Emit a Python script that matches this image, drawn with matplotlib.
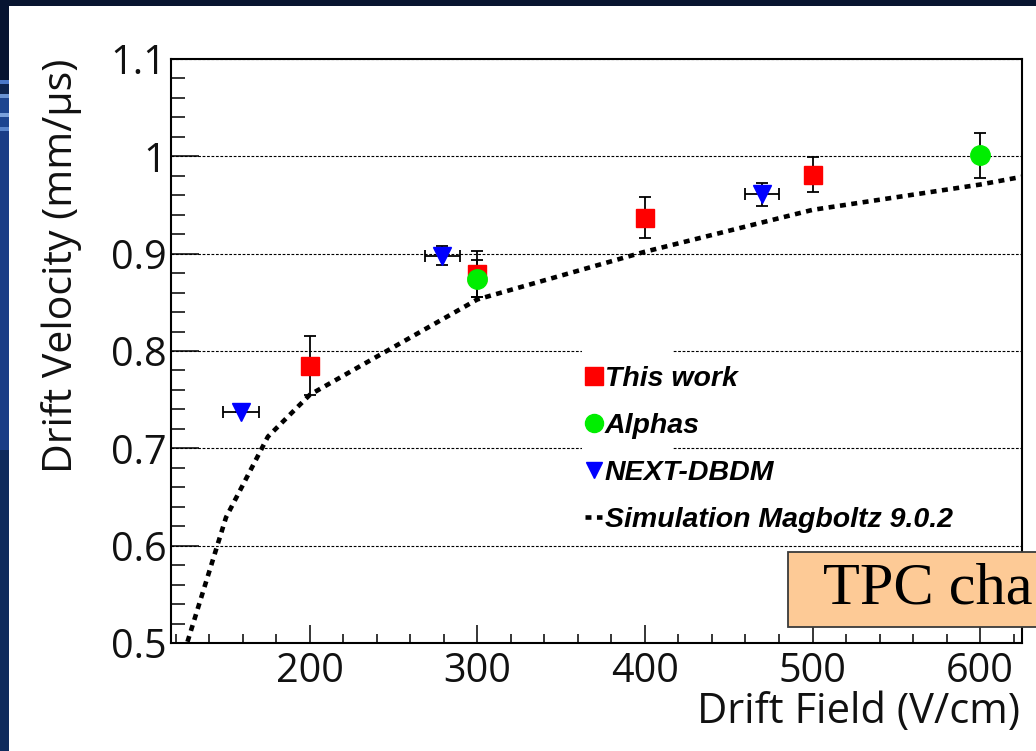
import matplotlib
matplotlib.use('Agg')
import matplotlib.pyplot as plt
from matplotlib.lines import Line2D
from matplotlib.patches import Rectangle
from matplotlib.ticker import MultipleLocator, FixedLocator, FixedFormatter

# data
this_x = [200, 300, 400, 500]
this_y = [0.785, 0.879, 0.937, 0.981]
this_err = [0.030, 0.024, 0.021, 0.018]

alpha_x = [300, 600]
alpha_y = [0.874, 1.001]
alpha_err = [0.019, 0.023]

next_x = [159, 279, 470]
next_y = [0.737, 0.898, 0.961]
next_xerr = [10.5, 10.5, 10.0]
next_yerr = [0.0, 0.010, 0.012]

sim_x = [125, 150, 175, 200, 300, 400, 500, 600, 625]
sim_y = [0.490, 0.629, 0.712, 0.755, 0.853, 0.902, 0.945, 0.971, 0.979]

y_ticks = [0.5, 0.6, 0.7, 0.8, 0.9, 1.0, 1.1]
y_tick_labels = ['0.5', '0.6', '0.7', '0.8', '0.9', '1', '1.1']
x_ticks = [200, 300, 400, 500, 600]

W, H = 1036, 751
def fx(px):
    return px / W
def fy(py):
    return 1 - py / H

fig = plt.figure(figsize=(W / 100, H / 100), dpi=100)
fig.patch.set_facecolor('white')

# slide background bits (dark band on top, blue strip on the left)
fig.add_artist(Rectangle((0, fy(6)), 1, 6 / H, transform=fig.transFigure,
                         fc='#081530', ec='none', zorder=0))
strips = [(0, 80, '#071431'), (80, 84, '#4a78c8'), (84, 94, '#0c2450'),
          (94, 98, '#6a94d4'), (98, 113, '#1c4590'), (113, 117, '#7aa2dc'),
          (117, 127, '#1c4590'), (127, 131, '#5a86cc'), (131, 450, '#1a3d86'),
          (450, 751, '#0f2b5c')]
for y0, y1, c in strips:
    fig.add_artist(Rectangle((0, fy(y1)), fx(9), (y1 - y0) / H,
                             transform=fig.transFigure, fc=c, ec='none', zorder=0))

ax = fig.add_axes([fx(170.7), fy(643), fx(1022) - fx(170.7), fy(59) - fy(643)])
ax.set_xlim(117, 625)
ax.set_ylim(0.5, 1.1)

for s in ax.spines.values():
    s.set_linewidth(1.5)
    s.set_color('black')

ax.yaxis.set_major_locator(FixedLocator(y_ticks))
ax.yaxis.set_major_formatter(FixedFormatter(y_tick_labels))
ax.yaxis.set_minor_locator(MultipleLocator(0.02))
ax.xaxis.set_major_locator(FixedLocator(x_ticks))
ax.xaxis.set_minor_locator(MultipleLocator(20))

ax.tick_params(which='both', direction='in', top=False, right=False,
               width=1.1, color='black', labelcolor='#111111')
ax.tick_params(axis='y', which='major', length=20, pad=3)
ax.tick_params(axis='y', which='minor', length=10)
ax.tick_params(axis='x', which='major', length=13, pad=6)
ax.tick_params(axis='x', which='minor', length=6.5)
for lab in ax.get_xticklabels() + ax.get_yticklabels():
    lab.set_fontfamily('Open Sans')
    lab.set_fontsize(28.5)

ax.yaxis.grid(True, which='major', color='black', lw=0.8, linestyle=(0, (2.5, 1.5)))

# white legend fill that breaks the grid lines
ax.add_patch(Rectangle((fx(582), fy(540)), fx(673) - fx(582), fy(345) - fy(540),
                       transform=fig.transFigure, fc='white', ec='none', zorder=1.8))

ax.plot(sim_x, sim_y, color='black', lw=3.3, dashes=(1.3, 1.2),
        dash_capstyle='butt', zorder=2)
ax.errorbar(this_x, this_y, yerr=this_err, fmt='s', color='#ff0000', ms=13,
            ecolor='black', elinewidth=1.3, capsize=4, capthick=1.3, zorder=3)
ax.errorbar(alpha_x, alpha_y, yerr=alpha_err, fmt='o', color='#00ee00', ms=14,
            ecolor='black', elinewidth=1.3, capsize=4, capthick=1.3, zorder=3)
ax.errorbar(next_x, next_y, xerr=next_xerr, yerr=next_yerr, fmt='v', color='#0000ff',
            ms=13, ecolor='black', elinewidth=1.3, capsize=4, capthick=1.3, zorder=3)

handles = [
    Line2D([], [], marker='s', color='#ff0000', ls='none', ms=13),
    Line2D([], [], marker='o', color='#00ee00', ls='none', ms=13),
    Line2D([], [], marker='v', color='#0000ff', ls='none', ms=11),
    Line2D([], [], color='black', lw=3.3, dashes=(1.3, 1.2), dash_capstyle='butt'),
]
labels = ['This work', 'Alphas', 'NEXT-DBDM', 'Simulation Magboltz 9.0.2']
leg = ax.legend(handles, labels, loc='upper left',
                bbox_to_anchor=(fx(585), fy(366)), bbox_transform=fig.transFigure,
                frameon=False, borderpad=0, borderaxespad=0, handlelength=0.6,
                handletextpad=0.1, labelspacing=0.74,
                prop={'family': 'Liberation Sans', 'weight': 'bold',
                      'style': 'italic', 'size': 20.5})
leg.set_zorder(5)

# axis titles (right/top aligned like the original)
fig.text(fx(1020), fy(712), 'Drift Field (V/cm)', ha='right', va='center',
         fontsize=30, family='Open Sans', color='#111111')
fig.text(fx(62), fy(59), 'Drift Velocity (mm/\u00b5s)', ha='center', va='top',
         rotation=90, fontsize=29.5, family='Open Sans', color='#111111')

# the slide's caption box, running off the right edge
fig.add_artist(Rectangle((fx(788), fy(627)), fx(1045) - fx(788), fy(552) - fy(627),
                         transform=fig.transFigure, fc='#fdca96', ec='#3a3a3a',
                         lw=1.3, zorder=6))
fig.text(fx(823), fy(590), 'TPC cha', ha='left', va='center', fontsize=43.5,
         family='Liberation Serif', color='black', zorder=7)

fig.savefig('out.png', dpi=100)
